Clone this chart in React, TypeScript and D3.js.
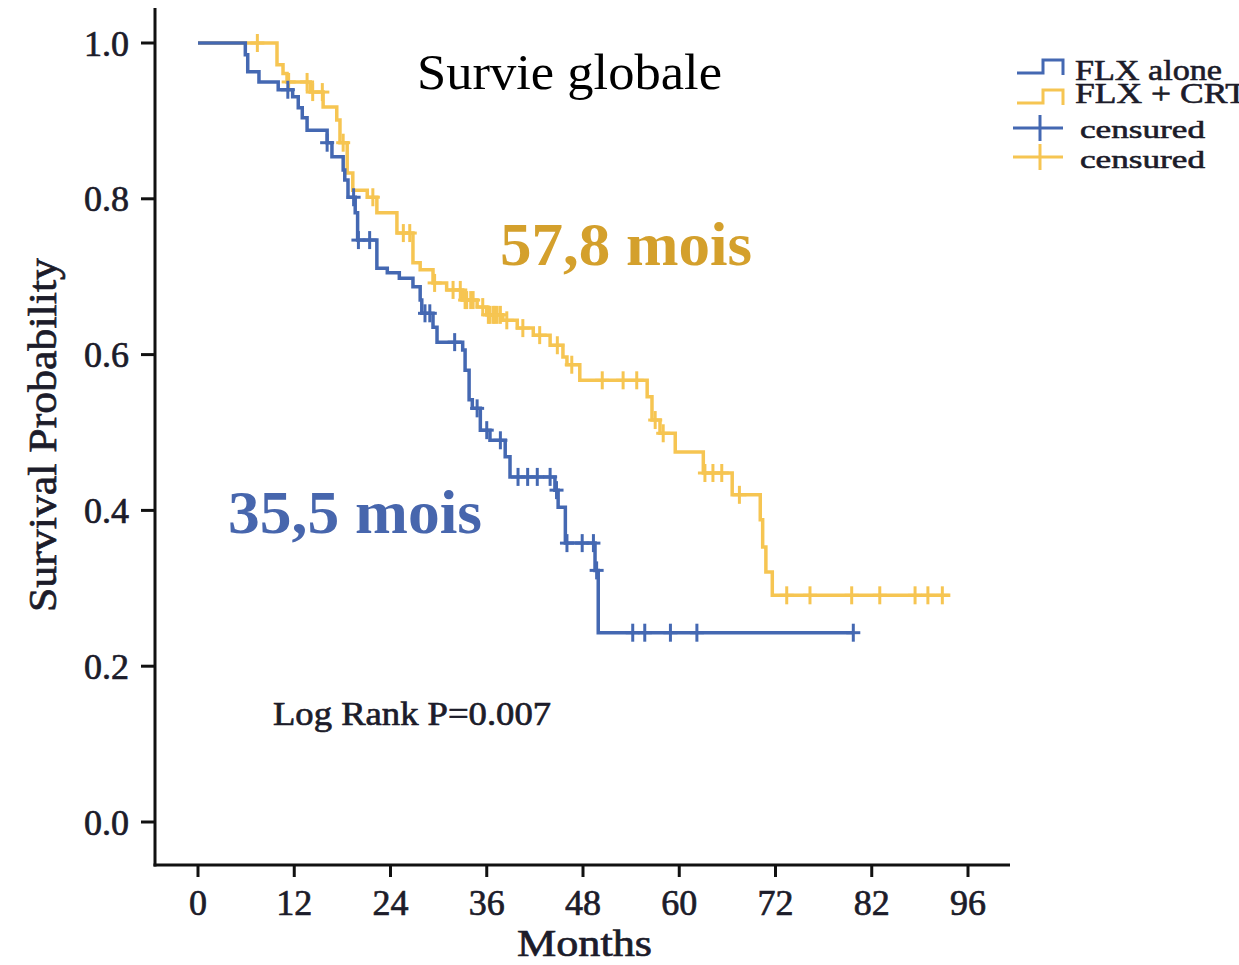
import React from 'react';
import * as d3 from 'd3';

const W = 1239;
const H = 965;

// Axis ticks (the 84-month tick is printed as "82" on the original figure)
const monthTicks = [0, 12, 24, 36, 48, 60, 72, 84, 96];
const monthTickLabels = ['0', '12', '24', '36', '48', '60', '72', '82', '96'];
const probTicks = [0, 0.2, 0.4, 0.6, 0.8, 1.0];

// FLX alone: [month, survival after the step]
const aloneSteps: [number, number][] = [
  [0, 1.0], [5.9, 0.985], [6.2, 0.963], [7.6, 0.95], [10.0, 0.94], [11.8, 0.931],
  [12.5, 0.917], [13.0, 0.904], [13.6, 0.888], [16.1, 0.872], [16.7, 0.854],
  [18.1, 0.837], [18.3, 0.824], [18.7, 0.802], [19.6, 0.782], [19.9, 0.747],
  [22.3, 0.711], [23.6, 0.705], [25.1, 0.698], [26.8, 0.687], [27.7, 0.67],
  [27.9, 0.653], [29.3, 0.635], [29.8, 0.616], [33.0, 0.606], [33.3, 0.58],
  [33.8, 0.542], [34.2, 0.531], [35.2, 0.503], [36.4, 0.49], [38.3, 0.469],
  [38.9, 0.443], [44.5, 0.426], [44.9, 0.404], [45.8, 0.358], [49.5, 0.323],
  [49.9, 0.243],
];
const aloneEnd = 81.7;
const aloneCensored = [
  11.2, 16.1, 19.4, 20.0, 21.4, 28.3, 28.9, 32.0, 34.8, 36.0, 37.7, 39.9, 41.1,
  42.3, 43.9, 44.7, 46.0, 47.9, 49.3, 49.7, 54.2, 55.7, 58.9, 62.2, 81.7,
];

// FLX + CRT: [month, survival after the step]
const crtSteps: [number, number][] = [
  [0, 1.0], [9.85, 0.972], [10.6, 0.961], [11.1, 0.95], [14.0, 0.937], [15.6, 0.918],
  [17.3, 0.901], [17.7, 0.872], [18.6, 0.833], [19.3, 0.811], [21.1, 0.802],
  [22.3, 0.782], [24.8, 0.756], [26.8, 0.718], [27.7, 0.709], [29.3, 0.692],
  [31.0, 0.683], [33.0, 0.67], [34.8, 0.661], [36.0, 0.651], [38.0, 0.644],
  [39.8, 0.634], [41.8, 0.625], [43.9, 0.612], [45.5, 0.597], [46.0, 0.587],
  [47.6, 0.567], [56.0, 0.546], [56.6, 0.516], [57.6, 0.499], [59.5, 0.475],
  [63.0, 0.448], [66.6, 0.42], [70.1, 0.388], [70.4, 0.353], [70.8, 0.321],
  [71.6, 0.291],
];
const crtEnd = 93.8;
const crtCensored = [
  7.4, 11.3, 13.6, 14.3, 15.5, 18.1, 21.8, 25.6, 26.4, 29.5, 31.8, 32.7, 33.3,
  33.5, 34.0, 34.3, 35.5, 36.2, 36.4, 36.8, 37.0, 37.3, 37.7, 38.5, 40.5, 42.6,
  44.8, 46.6, 50.4, 53.0, 54.7, 57.0, 58.0, 63.2, 64.2, 65.3, 67.5, 73.4, 76.3,
  81.5, 85.0, 89.4, 91.0, 92.8,
];

const legendLabels = ['FLX alone', 'FLX + CRT', 'censured', 'censured'];
const medianLabels = ['35,5 mois', '57,8 mois'];

const BLUE = '#4468b2';
const GOLD = '#f6c552';
const GOLD_TEXT = '#d4a02c';
const BLUE_TEXT = '#4766ad';
const INK = '#1c1c2a';
const SERIF = '"Liberation Serif", "Times New Roman", serif';

const x = d3.scaleLinear().domain([0, 96]).range([198, 968]);
const y = d3.scaleLinear().domain([0, 1]).range([822, 43]);

const stepLine = d3
  .line<[number, number]>()
  .x((d) => x(d[0]))
  .y((d) => y(d[1]))
  .curve(d3.curveStepAfter);

function survivalAt(steps: [number, number][], t: number): number {
  let s = steps[0][1];
  for (const [tt, v] of steps) {
    if (tt <= t) s = v;
  }
  return s;
}

function Curve({ steps, end, censored, color }: {
  steps: [number, number][];
  end: number;
  censored: number[];
  color: string;
}) {
  const pts: [number, number][] = [...steps, [end, steps[steps.length - 1][1]]];
  return (
    <g>
      <path d={stepLine(pts) ?? ''} fill="none" stroke={color} strokeWidth={3.5} />
      {censored.map((c, i) => {
        const cx = x(c);
        const cy = y(survivalAt(steps, c));
        return (
          <g key={i} stroke={color} strokeWidth={3}>
            <line x1={cx} x2={cx} y1={cy - 9} y2={cy + 9} />
            <line x1={cx - 7} x2={cx + 7} y1={cy} y2={cy} />
          </g>
        );
      })}
    </g>
  );
}

export default function App() {
  const axisX0 = 155;
  const axisY0 = 865;
  return (
    <svg
      width={W}
      height={H}
      viewBox={`0 0 ${W} ${H}`}
      style={{ position: 'absolute', left: 0, top: 0, background: '#fff' }}
      fontFamily={SERIF}
    >
      <rect width={W} height={H} fill="#fff" />

      {/* axes */}
      <g stroke="#111" strokeWidth={3}>
        <line x1={axisX0} x2={axisX0} y1={8} y2={axisY0 + 1.5} />
        <line x1={axisX0 - 1.5} x2={1010} y1={axisY0} y2={axisY0} />
        {probTicks.map((p) => (
          <line key={p} x1={axisX0 - 14} x2={axisX0} y1={y(p)} y2={y(p)} />
        ))}
        {monthTicks.map((m) => (
          <line key={m} x1={x(m)} x2={x(m)} y1={axisY0} y2={axisY0 + 12} />
        ))}
      </g>
      <g fill={INK} stroke={INK} strokeWidth={0.7} fontSize={36} textAnchor="end">
        {probTicks.map((p) => (
          <text key={p} x={129} y={y(p)} dy="0.35em">{p.toFixed(1)}</text>
        ))}
      </g>
      <g fill={INK} stroke={INK} strokeWidth={0.7} fontSize={36} textAnchor="middle">
        {monthTicks.map((m, i) => (
          <text key={m} x={x(m)} y={915}>{monthTickLabels[i]}</text>
        ))}
      </g>
      <text
        x={517}
        y={956}
        fill={INK}
        stroke={INK}
        strokeWidth={0.7}
        fontSize={38}
        textLength={135}
        lengthAdjust="spacingAndGlyphs"
      >
        Months
      </text>
      <text
        transform="translate(56,612) rotate(-90)"
        fill={INK}
        stroke={INK}
        strokeWidth={0.7}
        fontSize={40}
        textLength={354}
        lengthAdjust="spacingAndGlyphs"
      >
        Survival Probability
      </text>

      {/* curves */}
      <Curve steps={crtSteps} end={crtEnd} censored={crtCensored} color={GOLD} />
      <Curve steps={aloneSteps} end={aloneEnd} censored={aloneCensored} color={BLUE} />

      {/* annotations */}
      <text x={417} y={89} fontSize={50} fill="#000" textLength={305} lengthAdjust="spacingAndGlyphs">
        Survie globale
      </text>
      <text x={500} y={265} fontSize={62} fontWeight="bold" fill={GOLD_TEXT} textLength={252} lengthAdjust="spacingAndGlyphs">
        {medianLabels[1]}
      </text>
      <text x={228} y={533} fontSize={62} fontWeight="bold" fill={BLUE_TEXT} textLength={254} lengthAdjust="spacingAndGlyphs">
        {medianLabels[0]}
      </text>
      <text
        x={273}
        y={725}
        fontSize={34}
        fill={INK}
        stroke={INK}
        strokeWidth={0.7}
        textLength={278}
        lengthAdjust="spacingAndGlyphs"
      >
        Log Rank P=0.007
      </text>

      {/* legend */}
      <g fill="none" strokeWidth={3}>
        <path d="M1017,73 H1043 V60 H1063 V75" stroke={BLUE} />
        <path d="M1017,103 H1043 V90 H1063 V105" stroke={GOLD} />
        <g stroke={BLUE}>
          <line x1={1013} x2={1063} y1={128} y2={128} />
          <line x1={1040} x2={1040} y1={115} y2={141} />
        </g>
        <g stroke={GOLD}>
          <line x1={1013} x2={1063} y1={157} y2={157} />
          <line x1={1040} x2={1040} y1={144} y2={170} />
        </g>
      </g>
      <g fill={INK} stroke={INK} strokeWidth={0.6}>
        <text x={1075} y={80} fontSize={30} textLength={147} lengthAdjust="spacingAndGlyphs">{legendLabels[0]}</text>
        <text x={1075} y={103} fontSize={30} textLength={172} lengthAdjust="spacingAndGlyphs">{legendLabels[1]}</text>
        <text x={1080} y={138} fontSize={26} textLength={125} lengthAdjust="spacingAndGlyphs">{legendLabels[2]}</text>
        <text x={1080} y={168} fontSize={26} textLength={125} lengthAdjust="spacingAndGlyphs">{legendLabels[3]}</text>
      </g>
    </svg>
  );
}
